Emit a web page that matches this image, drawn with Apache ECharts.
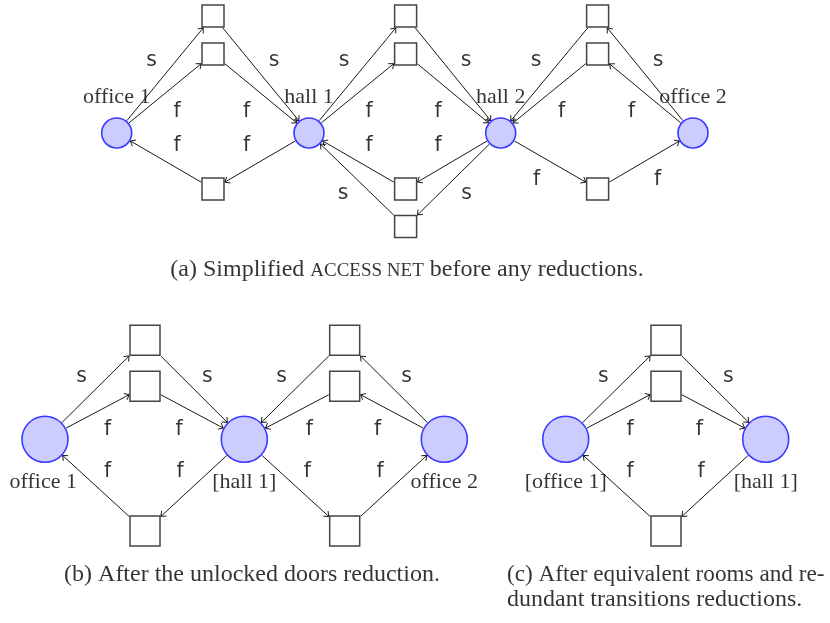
<!DOCTYPE html>
<html><head><meta charset="utf-8">
<script src="https://cdn.jsdelivr.net/npm/echarts@6/dist/echarts.min.js"></script>
<style>html,body{margin:0;padding:0;background:#fff}#c{width:830px;height:623px}</style>
</head><body><div id="c"></div>
<script>
// ---- data -------------------------------------------------------------
// places (circles): [id, panel, x, y]
const places = [
  ['o1a','a',116.7,133], ['h1a','a',309,133], ['h2a','a',500.7,133], ['o2a','a',693,133],
  ['o1b','b',45,439.3], ['h1b','b',244.3,439.3], ['o2b','b',444.3,439.3],
  ['o1c','c',565.7,439.3], ['h1c','c',765.7,439.3]
];
// transitions (squares): [id, panel, x, y]
const transitions = [
  ['a1','a',213,16], ['a2','a',213,54], ['a3','a',213,189],
  ['a4','a',405.6,16], ['a5','a',405.6,54], ['a6','a',405.6,189], ['a7','a',405.6,226.6],
  ['a8','a',597.6,16], ['a9','a',597.6,54], ['a10','a',597.6,189],
  ['b1','b',145,340.3], ['b2','b',145,386.3], ['b3','b',145,531],
  ['b4','b',344.7,340.3], ['b5','b',344.7,386.3], ['b6','b',344.7,531],
  ['c1','c',666,340.3], ['c2','c',666,386.3], ['c3','c',666,531]
];
// arcs: [from, to]
const arcs = [
  ['o1a','a1'],['o1a','a2'],['a1','h1a'],['a2','h1a'],['h1a','a3'],['a3','o1a'],
  ['h1a','a4'],['h1a','a5'],['a4','h2a'],['a5','h2a'],['h2a','a6'],['a6','h1a'],['h2a','a7'],['a7','h1a'],
  ['o2a','a8'],['o2a','a9'],['a8','h2a'],['a9','h2a'],['h2a','a10'],['a10','o2a'],
  ['o1b','b1'],['o1b','b2'],['b1','h1b'],['b2','h1b'],['h1b','b3'],['b3','o1b'],
  ['o2b','b4'],['o2b','b5'],['b4','h1b'],['b5','h1b'],['h1b','b6'],['b6','o2b'],
  ['o1c','c1'],['o1c','c2'],['c1','h1c'],['c2','h1c'],['h1c','c3'],['c3','o1c']
];
// place names: [text, x, y]
const placeNames = [
  ['office 1',116.7,97.6], ['hall 1',309,97.6], ['hall 2',500.7,97.6], ['office 2',693,97.6],
  ['office 1',43.3,482.6], ['[hall 1]',244.3,482.6], ['office 2',444.3,482.6],
  ['[office 1]',565.7,482.6], ['[hall 1]',765.7,482.6]
];
// arc inscriptions: [text, x, y]
const arcNames = [
  ['s',151.7,61],['s',274,61],['f',177,112],['f',246.7,112],['f',177,146],['f',246.7,146],
  ['s',344,61],['s',466,61],['f',369,112],['f',438,112],['f',369,146],['f',438,146],['s',343,194],['s',466.7,194],
  ['s',536,61],['s',658,61],['f',561.7,112],['f',631.7,112],['f',536.7,180],['f',657.7,180],
  ['s',81.7,377],['s',207.3,377],['f',107.7,430],['f',179,430],['f',107.7,471.5],['f',180,471.5],
  ['s',281.7,377],['s',406.7,377],['f',309.3,430],['f',377.7,430],['f',307.3,471.5],['f',380,471.5],
  ['s',603.3,377],['s',728.3,377],['f',630,430],['f',699.3,430],['f',630,471.5],['f',701,471.5]
];
// captions: [text, x, y, align]
const captions = [
  ['(a) Simplified {sc|ACCESS NET} before any reductions.',407,270,'center'],
  ['(b) After the unlocked doors reduction.',252,575,'center'],
  ['(c) After equivalent rooms and re-',507,575,'left'],
  ['dundant transitions reductions.',507,600,'left']
];

// ---- styling / geometry --------------------------------------------------
const panelSize = { a:{circle:30, square:22}, b:{circle:46, square:30}, c:{circle:46, square:30} };
const nodes = {};
places.forEach(p => nodes[p[0]] = {x:p[2], y:p[3], kind:'circle', s:panelSize[p[1]].circle});
transitions.forEach(t => nodes[t[0]] = {x:t[2], y:t[3], kind:'square', s:panelSize[t[1]].square});

function boundary(n, dx, dy) {
  const len = Math.hypot(dx, dy);
  const half = n.s/2 + 0.9;
  if (n.kind === 'circle') return [n.x + dx/len*half, n.y + dy/len*half];
  const t = half / Math.max(Math.abs(dx), Math.abs(dy));
  return [n.x + dx*t, n.y + dy*t];
}
const arcLines = [], heads = [];
const AL = 5.5, ANG = 40*Math.PI/180;
arcs.forEach(([f, t]) => {
  const A = nodes[f], B = nodes[t];
  const dx = B.x - A.x, dy = B.y - A.y;
  const p1 = boundary(A, dx, dy), p2 = boundary(B, -dx, -dy);
  arcLines.push({coords:[p1, p2]});
  const len = Math.hypot(dx, dy), ux = dx/len, uy = dy/len;
  const arm = s => {
    const c = Math.cos(s*ANG), sn = Math.sin(s*ANG);
    const rx = ux*c - uy*sn, ry = ux*sn + uy*c;
    return [p2[0] - rx*AL, p2[1] - ry*AL];
  };
  heads.push({coords:[arm(1), p2, arm(-1)]});
});

const serif = '"Liberation Serif", "Times New Roman", serif';
const sans = '"DejaVu Sans", sans-serif';
// the justified first line of caption (c) is set a touch tighter
const labelTweaks = { '(c) After equivalent rooms and re-': {fontSize:23.2} };
const textSeries = (arr, font, size, extra) => ({
  type:'scatter', symbolSize:0, silent:true, z:5,
  data: arr.map(d => ({name:d[0], value:[d[1], d[2]],
    label:Object.assign({align: d[3] || 'center'}, labelTweaks[d[0]] || {})})),
  label:Object.assign({show:true, position:'inside', formatter:p => p.name, color:'#000',
    fontFamily:font, fontSize:size, verticalAlign:'middle'}, extra || {})
});

const chart = echarts.init(document.getElementById('c'), null, {renderer:'canvas'});
chart.setOption({
  animation:false,
  backgroundColor:'#fff',
  grid:{left:0, right:0, top:0, bottom:0},
  xAxis:{type:'value', min:0, max:830, show:false},
  yAxis:{type:'value', min:0, max:623, inverse:true, show:false},
  series:[
    {type:'lines', coordinateSystem:'cartesian2d', silent:true, z:1, symbol:'none',
     lineStyle:{color:'#000', width:0.9, opacity:1}, data:arcLines},
    {type:'lines', coordinateSystem:'cartesian2d', polyline:true, silent:true, z:1, symbol:'none',
     lineStyle:{color:'#000', width:0.9, opacity:1}, data:heads},
    {type:'scatter', silent:true, z:3, symbol:'circle',
     data:places.map(p => ({value:[p[2], p[3]], symbolSize:panelSize[p[1]].circle})),
     itemStyle:{color:'#ccccff', borderColor:'#3a3aff', borderWidth:1.6, opacity:1}},
    {type:'scatter', silent:true, z:3, symbol:'rect',
     data:transitions.map(t => ({value:[t[2], t[3]], symbolSize:panelSize[t[1]].square})),
     itemStyle:{color:'#fff', borderColor:'#444', borderWidth:1.5, opacity:1}},
    textSeries(arcNames, sans, 20.5),
    textSeries(placeNames, serif, 22),
    textSeries(captions, serif, 24, {rich:{sc:{fontFamily:serif, fontSize:19, verticalAlign:'bottom', padding:[0,0,1,0]}}})
  ]
});
</script></body></html>
